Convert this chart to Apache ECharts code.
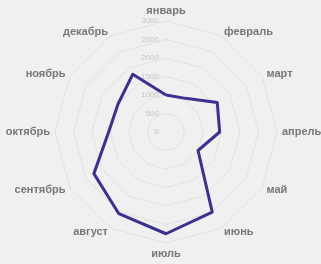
<!DOCTYPE html>
<html>
<head>
<meta charset="utf-8">
<script src="https://cdn.jsdelivr.net/npm/echarts@6/dist/echarts.min.js"></script>
<style>
  html, body { margin: 0; padding: 0; background: #f0f0f0; }
  #chart { width: 321px; height: 264px; }
</style>
</head>
<body>
<div id="chart"></div>
<script>
// месяцы по часовой стрелке, начиная сверху
const months = ['январь', 'февраль', 'март', 'апрель', 'май', 'июнь',
  'июль', 'август', 'сентябрь', 'октябрь', 'ноябрь', 'декабрь'];
const values = [1000, 1050, 1600, 1450, 1000, 2500, 2750, 2550, 2250, 1550, 1500, 1800];
const maxValue = 3000;

// echarts раскладывает оси против часовой стрелки, поэтому разворачиваем порядок
const order = [0].concat(months.map((m, i) => i).slice(1).reverse());

const chart = echarts.init(document.getElementById('chart'));
chart.setOption({
  backgroundColor: '#f0f0f0',
  radar: {
    center: [166, 132],
    radius: 111,
    startAngle: 90,
    shape: 'polygon',
    splitNumber: 6,
    nameGap: 5,
    axisName: {
      color: '#777',
      fontWeight: 'bold',
      fontSize: 11,
      fontFamily: 'Liberation Sans'
    },
    indicator: order.map((i, k) => ({
      name: months[i],
      min: 0,
      max: maxValue,
      axisLabel: k === 0 ? { show: true } : undefined
    })),
    axisLabel: {
      show: false,
      color: '#c4c4c4',
      fontSize: 8,
      fontFamily: 'Liberation Sans',
      margin: 7,
      formatter: v => String(v)
    },
    axisLine: { show: false },
    splitLine: { lineStyle: { color: '#d2d2d2', type: 'dotted', width: 1 } },
    splitArea: { show: false }
  },
  series: [{
    type: 'radar',
    symbol: 'none',
    lineStyle: { color: '#3a3190', width: 3 },
    data: [{ value: order.map(i => values[i]) }]
  }]
});
</script>
</body>
</html>
